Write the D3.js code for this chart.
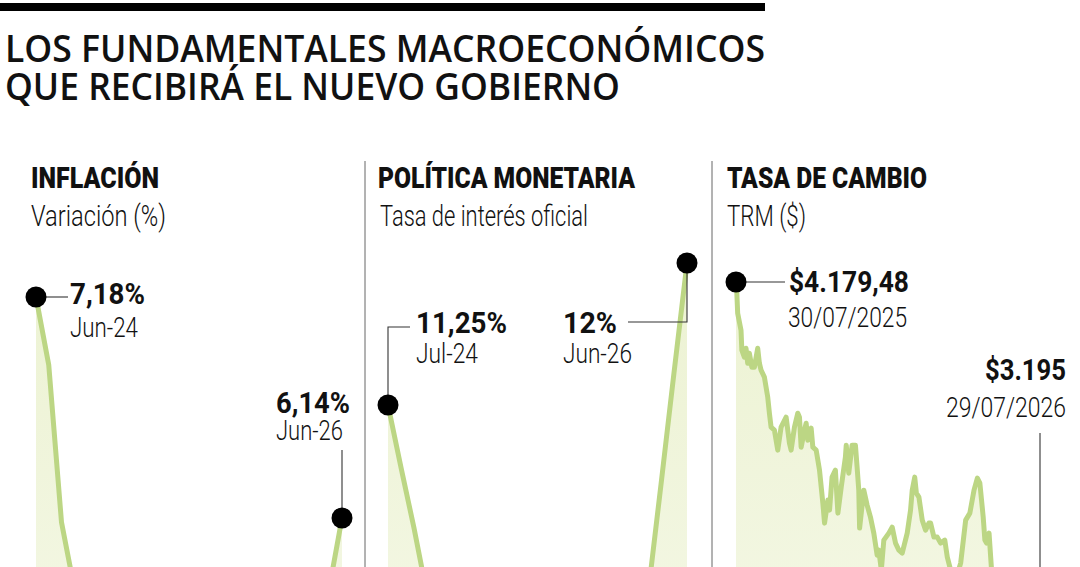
<!DOCTYPE html>
<html>
<head>
<meta charset="utf-8">
<script src="https://cdn.jsdelivr.net/npm/d3@7"></script>
<style>
  html, body { margin: 0; padding: 0; background: #fff; overflow: hidden; }
  svg { display: block; }
</style>
</head>
<body>
<script>
// ---------- DATA ----------
const titleLines = ["LOS FUNDAMENTALES MACROECONÓMICOS", "QUE RECIBIRÁ EL NUEVO GOBIERNO"];

// Inflación (variación anual %), Jun-24 .. Jun-26
const infMonths = ["Jun-24","Jul-24","Aug-24","Sep-24","Oct-24","Nov-24","Dec-24",
  "Jan-25","Feb-25","Mar-25","Apr-25","May-25","Jun-25","Jul-25","Aug-25","Sep-25","Oct-25","Nov-25","Dec-25",
  "Jan-26","Feb-26","Mar-26","Apr-26","May-26","Jun-26"];
const infValues = [7.18,6.86,6.12,5.81,5.41,5.20,5.20,
  5.22,5.28,5.09,5.16,5.05,4.82,4.90,5.10,5.18,5.51,5.30,5.10,
  5.35,5.29,5.45,5.60,5.81,6.14];

// Política monetaria (tasa de interés oficial %), Jul-24 .. Jun-26
const polMonths = ["Jul-24","Aug-24","Sep-24","Oct-24","Nov-24","Dec-24",
  "Jan-25","Feb-25","Mar-25","Apr-25","May-25","Jun-25","Jul-25","Aug-25","Sep-25","Oct-25","Nov-25","Dec-25",
  "Jan-26","Feb-26","Mar-26","Apr-26","May-26","Jun-26"];
const polValues = [11.25,10.92,10.60,10.25,9.75,9.50,
  9.50,9.50,9.50,9.25,9.25,9.25,9.25,9.25,9.25,9.25,9.25,9.25,
  9.25,9.75,10.25,10.83,11.42,12.00];

// Tasa de cambio (TRM $)
const trmDates = ["2025-07-30","2025-07-31","2025-08-01","2025-08-05","2025-08-06","2025-08-09","2025-08-11","2025-08-13","2025-08-15","2025-08-18",
  "2025-08-21","2025-08-25","2025-08-27","2025-08-29","2025-09-02","2025-09-06","2025-09-08","2025-09-10","2025-09-14","2025-09-18",
  "2025-09-22","2025-09-28","2025-10-02","2025-10-04","2025-10-08","2025-10-12","2025-10-14","2025-10-16","2025-10-20","2025-10-22",
  "2025-10-24","2025-10-28","2025-10-30","2025-11-03","2025-11-07","2025-11-11","2025-11-13","2025-11-17","2025-11-19","2025-11-22",
  "2025-11-26","2025-11-29","2025-12-03","2025-12-08","2025-12-09","2025-12-12","2025-12-16","2025-12-20","2025-12-22","2025-12-24",
  "2025-12-25","2025-12-30","2026-01-03","2026-01-07","2026-01-11","2026-01-15","2026-01-17","2026-01-20","2026-01-23","2026-01-29",
  "2026-02-02","2026-02-06","2026-02-10","2026-02-14","2026-02-20","2026-02-24","2026-02-26","2026-03-01","2026-03-03","2026-03-06",
  "2026-03-10","2026-03-14","2026-03-18","2026-03-20","2026-03-24","2026-03-28","2026-04-01","2026-04-06","2026-04-09","2026-04-13",
  "2026-04-19","2026-04-25","2026-05-01","2026-05-06","2026-05-11","2026-05-15","2026-05-18","2026-05-22","2026-05-24","2026-05-26",
  "2026-05-29","2026-06-01","2026-06-06","2026-06-12","2026-06-24","2026-07-06","2026-07-18","2026-07-29"];
const trmValues = [4179.48,4157,4117,4083,4043,4029,4047,4017,4037,4009,
  4009,4047,4017,4003,3989,3949,3917,3889,3883,3843,
  3889,3909,3857,3843,3889,3917,3909,3849,3883,3897,
  3863,3887,3849,3843,3803,3737,3697,3743,3723,3789,
  3803,3717,3769,3829,3853,3797,3853,3853,3809,3763,
  3687,3763,3733,3709,3677,3633,3643,3603,3663,3677,
  3689,3657,3643,3637,3677,3723,3763,3789,3757,3749,
  3703,3683,3697,3697,3669,3669,3657,3663,3629,3603,
  3583,3617,3703,3717,3763,3787,3777,3709,3663,3657,
  3677,3603,3563,3503,3423,3343,3263,3195];

const panelTitles = ["INFLACIÓN", "POLÍTICA MONETARIA", "TASA DE CAMBIO"];
const panelSubtitles = ["Variación (%)", "Tasa de interés oficial", "TRM ($)"];

// ---------- DRAW ----------
const W = 1080, H = 567;
const svg = d3.select("body").append("svg").attr("width", W).attr("height", H);

const LINE = "#bcd684";
const FONT = "Roboto, 'Open Sans', sans-serif";

const defs = svg.append("defs");
const grad = defs.append("linearGradient").attr("id", "fillGrad")
  .attr("gradientUnits", "userSpaceOnUse").attr("x1", 0).attr("x2", 0).attr("y1", 260).attr("y2", 620);
grad.append("stop").attr("offset", "0%").attr("stop-color", "#ecf2d2");
grad.append("stop").attr("offset", "100%").attr("stop-color", "#f3f7e3");

function txt(x, y, s, size, weight, width, anchor, family) {
  const t = svg.append("text").attr("x", x).attr("y", y).text(s)
    .attr("font-family", family || FONT)
    .attr("font-size", size).attr("font-weight", weight).attr("fill", "#111")
    .attr("text-anchor", anchor || "start");
  if (width) t.attr("textLength", width).attr("lengthAdjust", "spacingAndGlyphs");
  return t;
}

// top bar
svg.append("rect").attr("x", 0).attr("y", 3).attr("width", 765).attr("height", 8).attr("fill", "#000");

// title
txt(5, 62, titleLines[0], 38, 600, 760, "start", "'Open Sans', Roboto, sans-serif");
txt(5, 100, titleLines[1], 38, 600, 615, "start", "'Open Sans', Roboto, sans-serif");

// dividers
[365, 712].forEach(x => svg.append("line").attr("x1", x).attr("x2", x).attr("y1", 161).attr("y2", H)
  .attr("stroke", "#666").attr("stroke-width", 1));

// panel headers
const headX = [31, 378, 727], headW = [128, 257, 200], subW = [135, 208, 79];
panelTitles.forEach((t, i) => txt(headX[i], 188, t, 30, 900, headW[i]));
panelSubtitles.forEach((t, i) => txt(headX[i] + (i === 1 ? 2 : 0), 226, t, 29, 300, subW[i]));

const BASE = 1000;
function drawSeries(data, x, y) {
  const area = d3.area().x(d => x(d.k)).y0(BASE).y1(d => y(d.v));
  const line = d3.line().x(d => x(d.k)).y(d => y(d.v));
  svg.append("path").datum(data).attr("d", area).attr("fill", "url(#fillGrad)");
  svg.append("path").datum(data).attr("d", line).attr("fill", "none")
    .attr("stroke", LINE).attr("stroke-width", 5).attr("stroke-linejoin", "round");
}
function leader(points) {
  svg.append("path").attr("d", d3.line()(points)).attr("fill", "none")
    .attr("stroke", "#333").attr("stroke-width", 1.1);
}
function dot(cx, cy) {
  svg.append("circle").attr("cx", cx).attr("cy", cy).attr("r", 10.5).attr("fill", "#000");
}

// --- Inflación ---
const xInf = d3.scalePoint().domain(infMonths).range([36, 342]);
const yInf = d3.scaleLinear().domain([6.14, 7.18]).range([518, 297]);
const infData = infMonths.map((k, i) => ({k, v: infValues[i]}));
drawSeries(infData, xInf, yInf);
{
  const a = infData[0], b = infData[infData.length - 1];
  const ax = xInf(a.k), ay = yInf(a.v), bx = xInf(b.k), by = yInf(b.v);
  leader([[ax, ay], [ax + 32, ay]]);
  leader([[bx, by], [bx, 450]]);
  dot(ax, ay); dot(bx, by);
  txt(70, 304, "7,18%", 30, 700, 75);
  txt(70, 337, "Jun-24", 27, 300, 68);
  txt(276, 413, "6,14%", 30, 700, 74);
  txt(276, 440, "Jun-26", 27, 300, 67);
}

// --- Política monetaria ---
const xPol = d3.scalePoint().domain(polMonths).range([388, 687]);
const yPol = d3.scaleLinear().domain([11.25, 12]).range([405, 263]);
const polData = polMonths.map((k, i) => ({k, v: polValues[i]}));
drawSeries(polData, xPol, yPol);
{
  const a = polData[0], b = polData[polData.length - 1];
  const ax = xPol(a.k), ay = yPol(a.v), bx = xPol(b.k), by = yPol(b.v);
  leader([[ax, ay], [ax, 327], [410, 327]]);
  leader([[628, 322], [bx, 322], [bx, by]]);
  dot(ax, ay); dot(bx, by);
  txt(416, 333, "11,25%", 30, 700, 91);
  txt(416, 363, "Jul-24", 27, 300, 62);
  txt(563, 333, "12%", 30, 700, 54);
  txt(563, 363, "Jun-26", 27, 300, 69);
}

// --- Tasa de cambio ---
const parse = d3.timeParse("%Y-%m-%d");
const trmData = trmDates.map((d, i) => ({k: parse(d), v: trmValues[i]}));
const xTrm = d3.scaleTime().domain(d3.extent(trmData, d => d.k)).range([736, 1040]);
const yTrm = d3.scaleLinear().domain([3195, 4179.48]).range([774, 282]);
drawSeries(trmData, xTrm, yTrm);
{
  const a = trmData[0], b = trmData[trmData.length - 1];
  const ax = xTrm(a.k), ay = yTrm(a.v), bx = xTrm(b.k), by = yTrm(b.v);
  leader([[ax, ay], [785, ay]]);
  leader([[bx, 433], [bx, by]]);
  dot(ax, ay); dot(bx, by);
  txt(789, 292, "$4.179,48", 30, 700, 120);
  txt(788, 327, "30/07/2025", 27, 300, 119);
  txt(1066, 380, "$3.195", 30, 700, 81, "end");
  txt(1066, 417, "29/07/2026", 27, 300, 120, "end");
}
</script>
</body>
</html>
